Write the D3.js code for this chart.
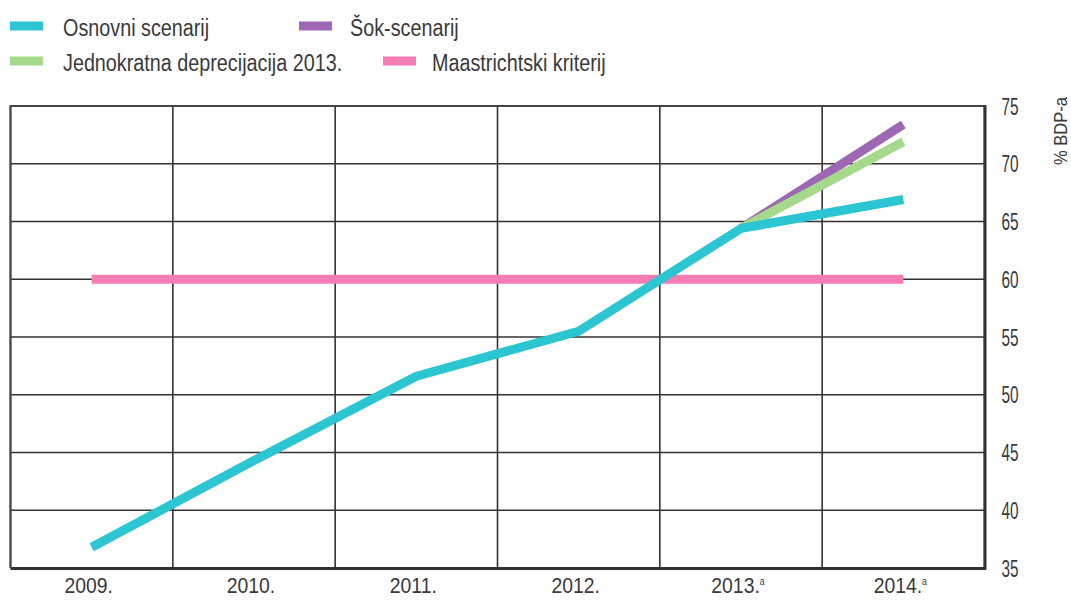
<!DOCTYPE html>
<html><head><meta charset="utf-8">
<script src="https://cdn.jsdelivr.net/npm/d3@7"></script>
<style>
body{margin:0;background:#fff;}
text{font-family:"Liberation Sans",Arial,sans-serif;fill:#3a3a3a;}
</style></head>
<body><svg id="c" width="1071" height="601"></svg>
<script>
const categories = ["2009.","2010.","2011.","2012.","2013.","2014."];
const catSup = ["","","","","a","a"];
const osnovni = [36.8, 44.3, 51.6, 55.5, 64.4, 66.9];
const sok = [null, null, null, null, 64.4, 73.4];
const deprecijacija = [null, null, null, null, 64.4, 71.9];
const maastricht = [60, 60, 60, 60, 60, 60];
const yTicks = [35,40,45,50,55,60,65,70,75];
const seriesNames = ["Osnovni scenarij","Šok-scenarij","Jednokratna deprecijacija 2013.","Maastrichtski kriterij"];
const colors = {osnovni:"#2cc5d2", sok:"#9d67b3", dep:"#a5d98c", maa:"#f67db4"};

const svg = d3.select("#c");
const L=10.5, R=984.5, T=106, B=568;
const x = d3.scaleBand().domain(categories).range([L,R]).padding(0);
const y = d3.scaleLinear().domain([35,75]).range([B,T]);
const cx = d => x(d)+x.bandwidth()/2;

// grid
const g = svg.append("g");
g.selectAll(".h").data(yTicks).enter().append("line")
  .attr("x1",L).attr("x2",R).attr("y1",d=>y(d)).attr("y2",d=>y(d))
  .attr("stroke","#333").attr("stroke-width",1.6);
const vx = categories.map(c=>x(c)).concat([R]);
g.selectAll(".v").data(vx).enter().append("line")
  .attr("x1",d=>d).attr("x2",d=>d).attr("y1",T).attr("y2",B)
  .attr("stroke","#333").attr("stroke-width",1.6);
g.append("line").attr("x1",L).attr("x2",R+1.5).attr("y1",B+0.5).attr("y2",B+0.5).attr("stroke","#333").attr("stroke-width",3);
g.append("line").attr("x1",R+0.5).attr("x2",R+0.5).attr("y1",T-1).attr("y2",B+1.5).attr("stroke","#333").attr("stroke-width",3);
g.append("line").attr("x1",L).attr("x2",L).attr("y1",T-1).attr("y2",B).attr("stroke","#444").attr("stroke-width",2);
g.append("line").attr("x1",L).attr("x2",R).attr("y1",T).attr("y2",T).attr("stroke","#444").attr("stroke-width",2);

// lines
const line = d3.line().defined(d=>d.v!=null).x(d=>cx(d.c)).y(d=>y(d.v));
function draw(vals,col){
  svg.append("path").datum(categories.map((c,i)=>({c,v:vals[i]})))
    .attr("d",line).attr("fill","none").attr("stroke",col).attr("stroke-width",9)
    .attr("stroke-linejoin","round");
}
draw(maastricht,colors.maa);
draw(sok,colors.sok);
draw(deprecijacija,colors.dep);
draw(osnovni,colors.osnovni);

// y axis labels (condensed)
svg.selectAll(".yt").data(yTicks).enter().append("text")
  .attr("transform",d=>`translate(1010,${y(d)+8.5}) scale(0.64,1)`)
  .attr("text-anchor","middle").attr("font-size",24).text(d=>d);
svg.append("text").attr("transform","translate(1067,131) rotate(-90) scale(0.92,1)")
  .attr("text-anchor","middle").attr("font-size",18).text("% BDP-a");

// x labels
const xl = svg.selectAll(".xl").data(categories).enter().append("text")
  .attr("transform",d=>`translate(${cx(d)-3},593) scale(0.88,1)`)
  .attr("text-anchor","middle").attr("font-size",22);
xl.append("tspan").text(d=>d);
xl.append("tspan").attr("dy",-8).attr("font-size",10).text((d,i)=>catSup[i]);

// legend
const leg = [
  {n:seriesNames[0],c:colors.osnovni,x:10,y:26,tx:63},
  {n:seriesNames[1],c:colors.sok,x:299,y:26,tx:350},
  {n:seriesNames[2],c:colors.dep,x:10,y:61,tx:63},
  {n:seriesNames[3],c:colors.maa,x:383,y:61,tx:432}
];
const lg = svg.selectAll(".lg").data(leg).enter().append("g");
lg.append("rect").attr("x",d=>d.x).attr("y",d=>d.y-4.5).attr("width",33).attr("height",9).attr("fill",d=>d.c);
lg.append("text").attr("transform",d=>`translate(${d.tx},${d.y+10}) scale(0.86,1)`)
  .attr("font-size",23).text(d=>d.n);
</script></body></html>
